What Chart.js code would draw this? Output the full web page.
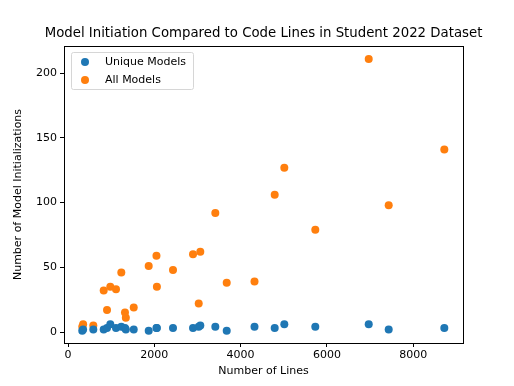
<!DOCTYPE html>
<html>
<head>
<meta charset="utf-8">
<script src="https://cdn.jsdelivr.net/npm/chart.js@4/dist/chart.umd.min.js"></script>
<style>
  html, body { margin: 0; padding: 0; background: #fff; }
  #wrap { width: 514px; height: 386px; }
</style>
</head>
<body>
<div id="wrap"><canvas id="scatterChart" width="514" height="386"></canvas></div>
<script>
// Data
const lines = [330, 350, 586, 827, 904, 980, 1112, 1235, 1320, 1340, 1523, 1870, 2050, 2060,
  2433, 2897, 3029, 3066, 3414, 3678, 4322, 4790, 5013, 5731, 6969, 7432, 8721];
const uniqueModels = [1, 2, 2, 2, 3, 6, 3, 4, 3, 2, 2, 1, 3, 3,
  3, 3, 4, 5, 4, 1, 4, 3, 6, 4, 6, 2, 3];
const allModels = [4, 6, 5, 32, 17, 35, 33, 46, 15, 11, 19, 51, 59, 35,
  48, 60, 22, 62, 92, 38, 39, 106, 127, 79, 211, 98, 141];
const xTicks = [0, 2000, 4000, 6000, 8000];
const yTicks = [0, 50, 100, 150, 200];
const chartTitle = 'Model Initiation Compared to Code Lines in Student 2022 Dataset';

const FONT = 'DejaVu Sans';
const R = 4;

const toPoints = (xs, ys) => xs.map((x, i) => ({ x: x, y: ys[i] }));

// Frame round the plot area (matplotlib spines), title over the axes, legend inside
const framePlugin = {
    id: 'frame',
    afterDraw(chart) {
        const { ctx, chartArea: a } = chart;
        ctx.save();
        ctx.strokeStyle = '#000';
        ctx.lineWidth = 1;
        ctx.strokeRect(Math.round(a.left) + 0.5, Math.round(a.top) + 0.5,
            Math.round(a.right - a.left), Math.round(a.bottom - a.top));

        // title centred over the plot area
        ctx.fillStyle = '#000';
        ctx.font = '13.3px ' + FONT;
        ctx.textAlign = 'center';
        ctx.textBaseline = 'middle';
        ctx.fillText(chartTitle, (a.left + a.right) / 2, 34);

        // legend box
        const bx = 71, by = 52, bw = 122, bh = 37;
        ctx.fillStyle = 'rgba(255,255,255,0.8)';
        ctx.strokeStyle = '#d6d6d6';
        ctx.beginPath();
        ctx.roundRect(bx + 0.5, by + 0.5, bw, bh, 2);
        ctx.fill();
        ctx.stroke();
        ctx.font = '11px ' + FONT;
        ctx.textAlign = 'left';
        chart.data.datasets.forEach((ds, i) => {
            const y = 62 + i * 18;
            ctx.fillStyle = ds.backgroundColor;
            ctx.beginPath();
            ctx.arc(85, y, R, 0, Math.PI * 2);
            ctx.fill();
            ctx.fillStyle = '#000';
            ctx.fillText(ds.label, 105, y);
        });
        ctx.restore();
    }
};

new Chart(document.getElementById('scatterChart'), {
    type: 'scatter',
    data: {
        datasets: [{
            label: 'Unique Models',
            data: toPoints(lines, uniqueModels),
            backgroundColor: '#1f77b4',
            borderWidth: 0,
            pointRadius: R
        }, {
            label: 'All Models',
            data: toPoints(lines, allModels),
            backgroundColor: '#ff7f0e',
            borderWidth: 0,
            pointRadius: R
        }]
    },
    options: {
        responsive: false,
        animation: false,
        events: [],
        layout: { padding: { left: 0, right: 51, top: 46, bottom: 0 } },
        plugins: {
            legend: { display: false },
            tooltip: { enabled: false },
            title: { display: false }
        },
        scales: {
            x: {
                type: 'linear',
                min: -93,
                max: 9154,
                afterBuildTicks: s => { s.ticks = xTicks.map(v => ({ value: v })); },
                afterFit: s => { s.height = 43; },
                ticks: {
                    color: '#000',
                    font: { family: FONT, size: 11 },
                    padding: 2,
                    maxRotation: 0,
                    callback: v => String(v)
                },
                grid: { drawOnChartArea: false, tickLength: 4, color: '#000' },
                border: { display: false },
                title: {
                    display: true,
                    text: 'Number of Lines',
                    color: '#000',
                    font: { family: FONT, size: 11 },
                    padding: { top: 1, bottom: 8 }
                }
            },
            y: {
                type: 'linear',
                min: -8.5,
                max: 221,
                afterBuildTicks: s => { s.ticks = yTicks.map(v => ({ value: v })); },
                afterFit: s => { s.width = 64; },
                ticks: {
                    color: '#000',
                    font: { family: FONT, size: 11 },
                    padding: 3,
                    callback: v => String(v)
                },
                grid: { drawOnChartArea: false, tickLength: 4, color: '#000' },
                border: { display: false },
                title: {
                    display: true,
                    text: 'Number of Model Initializations',
                    color: '#000',
                    font: { family: FONT, size: 11 },
                    padding: { top: 12, bottom: 4 }
                }
            }
        }
    },
    plugins: [framePlugin]
});
</script>
</body>
</html>
